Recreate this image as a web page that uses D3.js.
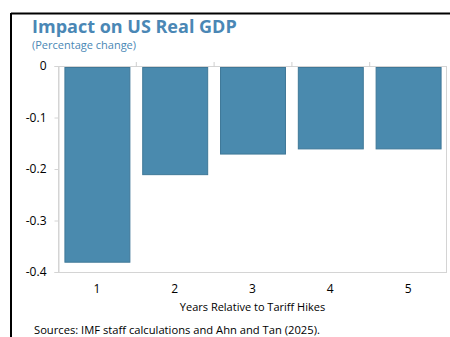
<!DOCTYPE html>
<html>
<head>
<meta charset="utf-8">
<script src="https://cdn.jsdelivr.net/npm/d3@7"></script>
<style>
  html, body { margin: 0; padding: 0; background: #fff; }
  svg { display: block; font-family: "Open Sans", "Noto Sans", sans-serif; }
</style>
</head>
<body>
<svg id="chart" width="450" height="337"></svg>
<script>
// Impact of tariff hikes on US real GDP, by year after the hike
const years = ["1", "2", "3", "4", "5"];
const gdpChange = [-0.38, -0.21, -0.17, -0.16, -0.16];
const yTicks = [0, -0.1, -0.2, -0.3, -0.4];
const yTickLabels = ["0", "-0.1", "-0.2", "-0.3", "-0.4"];

const svg = d3.select("#chart");
const W = 450, H = 337;
const plot = { left: 58, right: 447, top: 66, bottom: 272 };

// Outer frame (top and left rules)
svg.append("line").attr("x1", 11).attr("x2", W).attr("y1", 13.5).attr("y2", 13.5)
  .attr("stroke", "#000").attr("stroke-width", 2);
svg.append("line").attr("x1", 11).attr("x2", 11).attr("y1", 13).attr("y2", H)
  .attr("stroke", "#000").attr("stroke-width", 2);

// Title block
svg.append("text").attr("x", 32).attr("y", 33)
  .attr("font-size", 18).attr("font-weight", 700).attr("fill", "#4a87b5")
  .text("Impact on US Real GDP");
svg.append("text").attr("x", 32).attr("y", 49)
  .attr("font-size", 11).attr("fill", "#4a87b5")
  .text("(Percentage change)");

const x = d3.scaleBand().domain(years).range([plot.left, plot.right])
  .paddingInner(0.165).paddingOuter(0.0825);
const xTicks = d3.scaleBand().domain(years).range([plot.left, plot.right]);
const y = d3.scaleLinear().domain([-0.4, 0]).range([plot.bottom, plot.top]);

// Plot frame
svg.append("rect").attr("x", plot.left + 0.5).attr("y", plot.top + 0.5)
  .attr("width", plot.right - plot.left - 1).attr("height", plot.bottom - plot.top)
  .attr("fill", "none").attr("stroke", "#d4d4d4").attr("stroke-width", 1);

// Category boundary ticks along the zero line
svg.append("g").selectAll("line")
  .data(years.slice(1))
  .join("line")
  .attr("x1", d => xTicks(d) + 0.5).attr("x2", d => xTicks(d) + 0.5)
  .attr("y1", y(0) - 4).attr("y2", y(0) + 1)
  .attr("stroke", "#cfcfcf");

// Y axis
const yAxis = d3.axisLeft(y).tickValues(yTicks)
  .tickFormat((d, i) => yTickLabels[i]).tickSize(4).tickPadding(8);
const gy = svg.append("g").attr("transform", `translate(${plot.left + 0.5},0)`).call(yAxis);
gy.select(".domain").attr("stroke", "#d4d4d4");
gy.selectAll(".tick line").attr("stroke", "#d4d4d4");
gy.selectAll(".tick text").attr("font-size", 12).attr("fill", "#000")
  .attr("font-family", "'Open Sans', sans-serif");

// Bars
svg.append("g").selectAll("rect")
  .data(gdpChange)
  .join("rect")
  .attr("x", (d, i) => x(years[i]) + 0.5)
  .attr("y", y(0) + 1.5)
  .attr("width", x.bandwidth())
  .attr("height", d => y(d) - y(0) - 1)
  .attr("fill", "#4a8aae")
  .attr("stroke", "#3f7898")
  .attr("stroke-width", 1);

// X axis labels
const xAxis = d3.axisBottom(xTicks).tickSize(0).tickPadding(12);
const gx = svg.append("g").attr("transform", `translate(0,${plot.bottom})`).call(xAxis);
gx.select(".domain").remove();
gx.selectAll(".tick text").attr("font-size", 12).attr("fill", "#000")
  .attr("font-family", "'Open Sans', sans-serif");

svg.append("text").attr("x", (plot.left + plot.right) / 2).attr("y", 311)
  .attr("text-anchor", "middle").attr("font-size", 11).attr("fill", "#000")
  .text("Years Relative to Tariff Hikes");

svg.append("text").attr("x", 34).attr("y", 334)
  .attr("font-size", 11.2).attr("fill", "#000")
  .text("Sources: IMF staff calculations and Ahn and Tan (2025).");
</script>
</body>
</html>
